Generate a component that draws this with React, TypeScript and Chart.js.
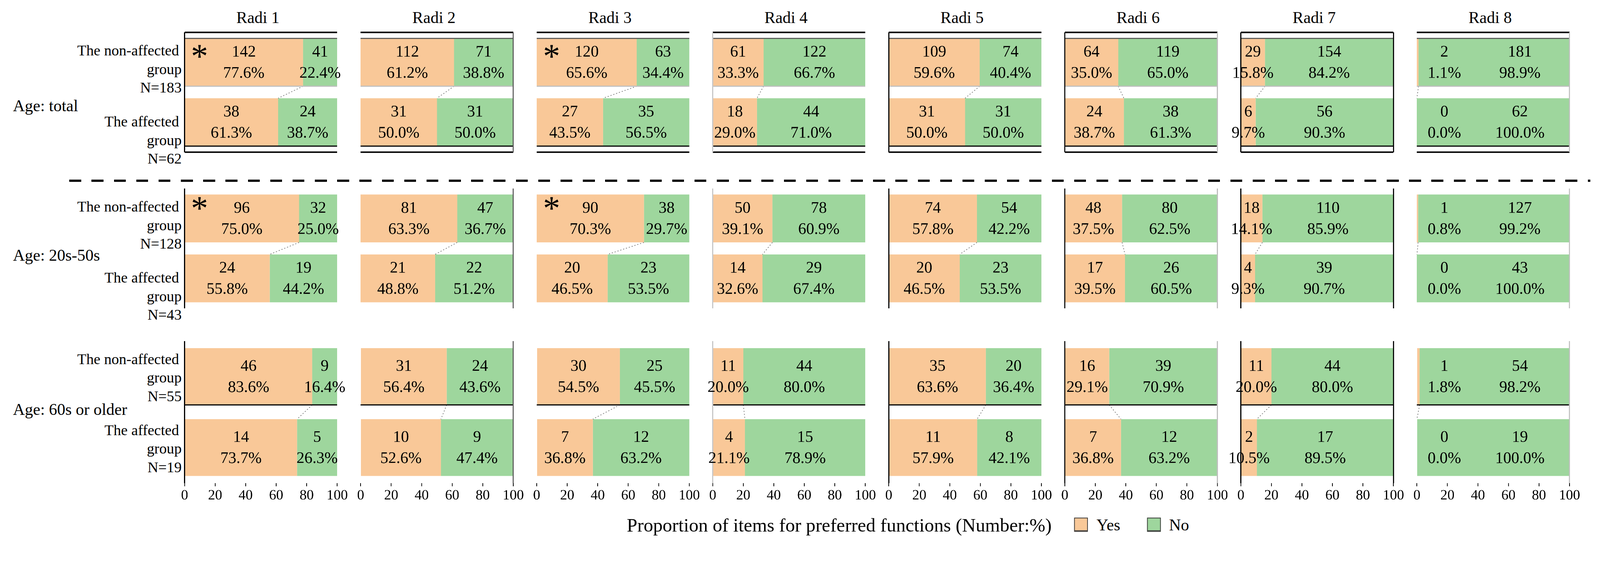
import React, { useEffect, useRef, useState } from 'react';
import { Chart, registerables } from 'chart.js';

Chart.register(...registerables);

// ---------------- data ----------------
const radiNames = ['Radi 1', 'Radi 2', 'Radi 3', 'Radi 4', 'Radi 5', 'Radi 6', 'Radi 7', 'Radi 8'];
const ageGroupNames = ['Age: total', 'Age: 20s-50s', 'Age: 60s or older'];
const rowCategories = ['The non-affected group', 'The affected group'];
const rowLabelLines = [['The non-affected', 'group'], ['The affected', 'group']];
const sampleSizes = [[183, 62], [128, 43], [55, 19]];
const seriesNames = ['Yes', 'No'];
const axisTitle = 'Proportion of items for preferred functions (Number:%)';

// Age: total
const totalNonYesCount = [142, 112, 120, 61, 109, 64, 29, 2];
const totalNonNoCount = [41, 71, 63, 122, 74, 119, 154, 181];
const totalNonYesPct = [77.6, 61.2, 65.6, 33.3, 59.6, 35.0, 15.8, 1.1];
const totalNonNoPct = [22.4, 38.8, 34.4, 66.7, 40.4, 65.0, 84.2, 98.9];
const totalAffYesCount = [38, 31, 27, 18, 31, 24, 6, 0];
const totalAffNoCount = [24, 31, 35, 44, 31, 38, 56, 62];
const totalAffYesPct = [61.3, 50.0, 43.5, 29.0, 50.0, 38.7, 9.7, 0.0];
const totalAffNoPct = [38.7, 50.0, 56.5, 71.0, 50.0, 61.3, 90.3, 100.0];

// Age: 20s-50s
const midNonYesCount = [96, 81, 90, 50, 74, 48, 18, 1];
const midNonNoCount = [32, 47, 38, 78, 54, 80, 110, 127];
const midNonYesPct = [75.0, 63.3, 70.3, 39.1, 57.8, 37.5, 14.1, 0.8];
const midNonNoPct = [25.0, 36.7, 29.7, 60.9, 42.2, 62.5, 85.9, 99.2];
const midAffYesCount = [24, 21, 20, 14, 20, 17, 4, 0];
const midAffNoCount = [19, 22, 23, 29, 23, 26, 39, 43];
const midAffYesPct = [55.8, 48.8, 46.5, 32.6, 46.5, 39.5, 9.3, 0.0];
const midAffNoPct = [44.2, 51.2, 53.5, 67.4, 53.5, 60.5, 90.7, 100.0];

// Age: 60s or older
const oldNonYesCount = [46, 31, 30, 11, 35, 16, 11, 1];
const oldNonNoCount = [9, 24, 25, 44, 20, 39, 44, 54];
const oldNonYesPct = [83.6, 56.4, 54.5, 20.0, 63.6, 29.1, 20.0, 1.8];
const oldNonNoPct = [16.4, 43.6, 45.5, 80.0, 36.4, 70.9, 80.0, 98.2];
const oldAffYesCount = [14, 10, 7, 4, 11, 7, 2, 0];
const oldAffNoCount = [5, 9, 12, 15, 8, 12, 17, 19];
const oldAffYesPct = [73.7, 52.6, 36.8, 21.1, 57.9, 36.8, 10.5, 0.0];
const oldAffNoPct = [26.3, 47.4, 63.2, 78.9, 42.1, 63.2, 89.5, 100.0];

// significance marks (*)
const significantTotal = [true, false, true, false, false, false, false, false];
const significantMid = [true, false, true, false, false, false, false, false];
const significantOld = [false, false, false, false, false, false, false, false];

// ---------------- styling / layout ----------------
const FONT = '"Liberation Serif", "Times New Roman", Times, serif';
const YES_COLOR = '#F9C898';
const NO_COLOR = '#9ED69D';
const PAGE_W = 4299;
const PAGE_H = 1463;
const PANEL_LEFT0 = 496;
const PANEL_STEP = 473;
const PANEL_W = 410;
const GROUP_TOPS = [87, 507, 917];
const GROUP_H = 382;
const PAD = { left: 40, right: 40, top: 20, bottom: 20 };
const AXIS_H = 60;
const LEFT_LINE = ['#000', null, null, '#c8c8c8', '#000', '#000', '#000', null];
const RIGHT_LINE = [null, '#595959', null, null, null, '#bfbfbf', '#000', '#bfbfbf'];
const AGE_BASELINES = [300, 702, 1117];
const STAR_OFFSET = [-29, -40, -29];
const STAR_SIZE = 92;

type Row = { yesN: number; noN: number; yesPct: number; noPct: number };

const groupData = [
  [
    [totalNonYesCount, totalNonNoCount, totalNonYesPct, totalNonNoPct],
    [totalAffYesCount, totalAffNoCount, totalAffYesPct, totalAffNoPct],
  ],
  [
    [midNonYesCount, midNonNoCount, midNonYesPct, midNonNoPct],
    [midAffYesCount, midAffNoCount, midAffYesPct, midAffNoPct],
  ],
  [
    [oldNonYesCount, oldNonNoCount, oldNonYesPct, oldNonNoPct],
    [oldAffYesCount, oldAffNoCount, oldAffYesPct, oldAffNoPct],
  ],
];
const significance = [significantTotal, significantMid, significantOld];

function rowsFor(age: number, col: number): Row[] {
  return groupData[age].map((g) => ({ yesN: g[0][col], noN: g[1][col], yesPct: g[2][col], noPct: g[3][col] }));
}

function makeDecor(age: number, col: number, rows: Row[]) {
  return {
    id: 'decor',
    afterDatasetsDraw(chart: any) {
      const { ctx, chartArea: ca, scales } = chart;
      const xs = scales.x;
      const yesEls = chart.getDatasetMeta(0).data;
      const noEls = chart.getDatasetMeta(1).data;
      const geo = (el: any) => el.getProps(['x', 'y', 'base', 'height'], true);
      const line = (x0: number, y0: number, x1: number, y1: number, color: string, w: number, dash: number[] = []) => {
        ctx.beginPath();
        ctx.setLineDash(dash);
        ctx.strokeStyle = color;
        ctx.lineWidth = w;
        ctx.moveTo(x0, y0);
        ctx.lineTo(x1, y1);
        ctx.stroke();
      };
      ctx.save();
      const b0 = geo(yesEls[0]);
      const b1 = geo(yesEls[1]);
      // series line connecting Yes/No boundaries
      line(
        xs.getPixelForValue(rows[0].yesPct), b0.y + b0.height / 2,
        xs.getPixelForValue(rows[1].yesPct), b1.y - b1.height / 2,
        '#7f7f7f', 2, [3, 5]
      );
      if (age === 0) {
        line(ca.left, ca.top, ca.right, ca.top, '#000', 4);
        line(ca.left, ca.bottom, ca.right, ca.bottom, '#000', 4);
        line(ca.left, b0.y - b0.height / 2, ca.right, b0.y - b0.height / 2, '#595959', 3);
        line(ca.left, b0.y + b0.height / 2, ca.right, b0.y + b0.height / 2, '#bfbfbf', 3);
        line(ca.left, b1.y + b1.height / 2, ca.right, b1.y + b1.height / 2, '#000', 3);
      }
      if (age === 2) {
        line(ca.left, b0.y + b0.height / 2, ca.right, b0.y + b0.height / 2, '#000', 3);
      }
      if (LEFT_LINE[col]) line(ca.left, ca.top, ca.left, ca.bottom, LEFT_LINE[col] as string, 3);
      if (RIGHT_LINE[col]) line(ca.right, ca.top, ca.right, ca.bottom, RIGHT_LINE[col] as string, 3);

      // value labels
      ctx.setLineDash([]);
      ctx.fillStyle = '#000';
      ctx.font = `43px ${FONT}`;
      ctx.textAlign = 'center';
      ctx.textBaseline = 'middle';
      rows.forEach((r, i) => {
        const yb = geo(yesEls[i]);
        const nb = geo(noEls[i]);
        let yx = (yb.x + yb.base) / 2;
        let nx = (nb.x + nb.base) / 2;
        if (r.yesPct < 5) {
          yx = xs.getPixelForValue(18);
          nx = xs.getPixelForValue(67.5);
        }
        ctx.fillText(String(r.yesN), yx, yb.y - 27);
        ctx.fillText(r.yesPct.toFixed(1) + '%', yx, yb.y + 30);
        ctx.fillText(String(r.noN), nx, nb.y - 27);
        ctx.fillText(r.noPct.toFixed(1) + '%', nx, nb.y + 30);
      });

      // significance asterisk (glyph centre ~0.47em above baseline)
      if (significance[age][col]) {
        ctx.font = `${STAR_SIZE}px ${FONT}`;
        ctx.textAlign = 'center';
        ctx.textBaseline = 'alphabetic';
        const cx = ca.left + 40;
        const cy = b0.y + STAR_OFFSET[age];
        ctx.fillText('*', cx, cy + 0.47 * STAR_SIZE);
      }
      ctx.restore();
    },
  };
}

function Panel({ age, col }: { age: number; col: number }) {
  const ref = useRef<HTMLCanvasElement | null>(null);
  const showAxis = age === 2;
  const w = PANEL_W + PAD.left + PAD.right;
  const h = GROUP_H + PAD.top + PAD.bottom + (showAxis ? AXIS_H : 0);
  const left = PANEL_LEFT0 + PANEL_STEP * col - PAD.left;
  const top = GROUP_TOPS[age] - PAD.top;

  useEffect(() => {
    if (!ref.current) return;
    const rows = rowsFor(age, col);
    const chart = new Chart(ref.current, {
      type: 'bar',
      data: {
        labels: rowCategories,
        datasets: [
          {
            label: seriesNames[0],
            data: rows.map((r) => r.yesPct),
            backgroundColor: YES_COLOR,
            borderWidth: 0,
            barPercentage: 0.8,
            categoryPercentage: 1,
          },
          {
            label: seriesNames[1],
            data: rows.map((r) => r.noPct),
            backgroundColor: NO_COLOR,
            borderWidth: 0,
            barPercentage: 0.8,
            categoryPercentage: 1,
          },
        ],
      },
      options: {
        indexAxis: 'y',
        responsive: false,
        animation: false,
        devicePixelRatio: 2,
        layout: { padding: PAD },
        plugins: { legend: { display: false }, tooltip: { enabled: false } },
        scales: {
          x: {
            stacked: true,
            min: 0,
            max: 100,
            display: showAxis,
            ticks: {
              stepSize: 20,
              color: '#000',
              font: { family: FONT, size: 38 },
              padding: 2,
              maxRotation: 0,
              autoSkip: false,
            },
            grid: {
              display: true,
              drawOnChartArea: false,
              drawTicks: true,
              tickLength: 9,
              color: '#000',
              lineWidth: 2,
            },
            border: { display: false },
            afterFit: (s: any) => {
              s.height = AXIS_H;
            },
          },
          y: { stacked: true, display: false },
        },
      } as any,
      plugins: [makeDecor(age, col, rows)],
    });
    return () => chart.destroy();
  }, [age, col]);

  return (
    <canvas
      ref={ref}
      width={w}
      height={h}
      style={{ position: 'absolute', left, top, width: w, height: h }}
    />
  );
}

function Txt({ x, baseline, size, children, align = 'left', width = 800 }: any) {
  let left = x;
  if (align === 'center') left = x - width / 2;
  if (align === 'right') left = x - width;
  return (
    <div
      style={{
        position: 'absolute',
        left,
        top: baseline - 0.8375 * size,
        width,
        fontFamily: FONT,
        fontSize: size,
        lineHeight: `${size}px`,
        textAlign: align,
        whiteSpace: 'nowrap',
        color: '#000',
      }}
    >
      {children}
    </div>
  );
}

function fitScale() {
  if (typeof window === 'undefined') return 1;
  const w = window.innerWidth || PAGE_W;
  const h = window.innerHeight || PAGE_H;
  return Math.min(w / PAGE_W, h / PAGE_H);
}

export default function App() {
  const [scale, setScale] = useState<number>(fitScale());
  useEffect(() => {
    const onResize = () => setScale(fitScale());
    window.addEventListener('resize', onResize);
    onResize();
    return () => window.removeEventListener('resize', onResize);
  }, []);

  const panels: any[] = [];
  for (let a = 0; a < 3; a++) for (let c = 0; c < 8; c++) panels.push(<Panel key={`${a}-${c}`} age={a} col={c} />);

  const rowLabelEls: any[] = [];
  for (let a = 0; a < 3; a++) {
    for (let r = 0; r < 2; r++) {
      const barCenter = GROUP_TOPS[a] + (GROUP_H / 2) * (r + 0.5);
      const lines = [...rowLabelLines[r], `N=${sampleSizes[a][r]}`];
      lines.forEach((ln, k) => {
        rowLabelEls.push(
          <Txt key={`rl-${a}-${r}-${k}`} x={k === 0 ? 481 : 488} baseline={barCenter + 17 + (k - 1) * 50} size={40} align="right" width={600}>
            {ln}
          </Txt>
        );
      });
    }
  }

  return (
    <div style={{ position: 'fixed', left: 0, top: 0, right: 0, bottom: 0, overflow: 'hidden', background: '#fff' }}>
      <div
        style={{
          position: 'absolute',
          left: 0,
          top: 0,
          width: PAGE_W,
          height: PAGE_H,
          background: '#fff',
          overflow: 'hidden',
          transform: `scale(${scale})`,
          transformOrigin: '0 0',
        }}
      >
        {radiNames.map((n, c) => (
          <Txt key={n} x={PANEL_LEFT0 + PANEL_STEP * c + PANEL_W / 2 - 8} baseline={63} size={44} align="center" width={300}>
            {n}
          </Txt>
        ))}
        {ageGroupNames.map((n, a) => (
          <Txt key={n} x={35} baseline={AGE_BASELINES[a]} size={44}>
            {n}
          </Txt>
        ))}
        {rowLabelEls}
        <div
          style={{
            position: 'absolute',
            left: 186,
            top: 483,
            width: 4273 - 186,
            height: 6,
            background: 'repeating-linear-gradient(to right, #000 0px, #000 32px, transparent 32px, transparent 60px)',
          }}
        />
        {panels}
        <Txt x={1684} baseline={1430} size={51} width={1300}>
          {axisTitle}
        </Txt>
        <div style={{ position: 'absolute', left: 2886, top: 1392, width: 37, height: 38, boxSizing: 'border-box', background: YES_COLOR, border: '2px solid #404040', borderBottomWidth: 4 }} />
        <Txt x={2946} baseline={1427} size={44} width={100}>
          {seriesNames[0]}
        </Txt>
        <div style={{ position: 'absolute', left: 3082, top: 1392, width: 37, height: 38, boxSizing: 'border-box', background: NO_COLOR, border: '2px solid #404040', borderBottomWidth: 4 }} />
        <Txt x={3141} baseline={1427} size={44} width={100}>
          {seriesNames[1]}
        </Txt>
      </div>
    </div>
  );
}
